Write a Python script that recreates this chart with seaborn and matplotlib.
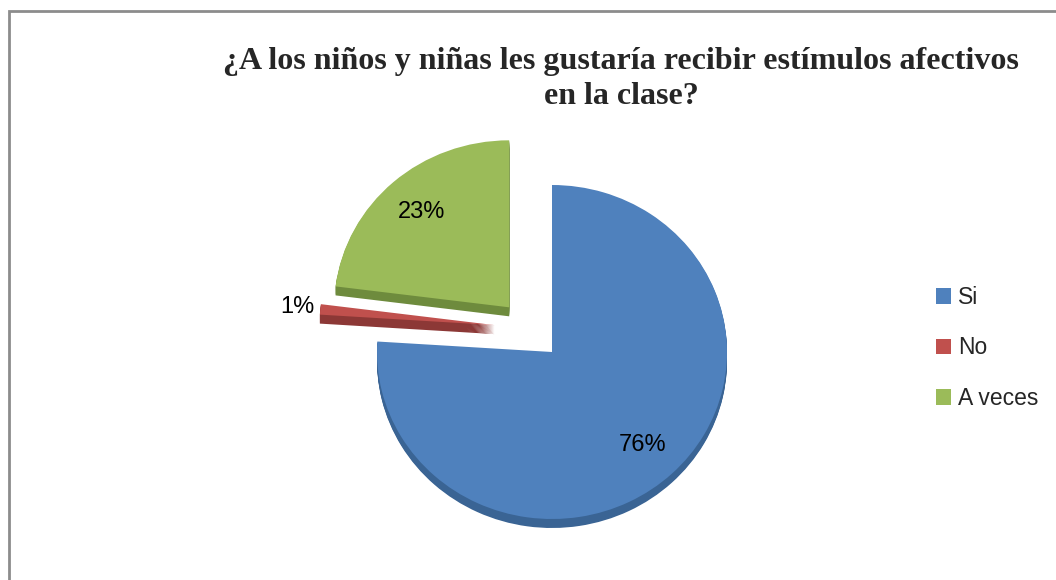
import matplotlib
matplotlib.use("Agg")
import matplotlib.pyplot as plt
import seaborn as sns
import numpy as np
from matplotlib.patches import Rectangle

categories = ["Si", "No", "A veces"]
values = [76, 1, 23]
pct_labels = ["76%", "1%", "23%"]
title = "¿A los niños y niñas les gustaría recibir estímulos afectivos\nen la clase?"

sns.set_theme(style="white")
plt.rcParams["font.family"] = ["Liberation Sans", "DejaVu Sans"]

colors = ["#4F81BD", "#C0504D", "#9BBB59"]
dark = ["#3A6494", "#8C3836", "#6E8B3D"]
explode = [0, 0.33, 0.37]
lift = [0, 0.13, -0.01]  # extra vertical shift imitating the 3D perspective

W, H = 1056, 580
fig = plt.figure(figsize=(W / 100, H / 100), dpi=100)
ax = fig.add_axes([0, 0, 1, 1])

cx, cy, rx, ry = 552, 352, 175, 167
depth = 9 / ry


def layer(cols, dy, **kw):
    out = ax.pie(values, explode=explode, colors=cols, startangle=90, counterclock=False,
                 center=(0, dy), wedgeprops=dict(linewidth=0), frame=True, **kw)
    for w, l in zip(out[0], lift):
        c = w.center
        w.set_center((c[0], c[1] + l))
    return out


n = 10
for k in range(n, 0, -1):
    layer(dark, -depth * k / n)

wedges, texts, autotexts = layer(colors, 0, autopct=lambda p: "", pctdistance=0.78)

for i, (w, t) in enumerate(zip(wedges, autotexts)):
    ang = np.deg2rad((w.theta1 + w.theta2) / 2)
    c = w.center
    d = 1.13 if values[i] < 5 else 0.76
    t.set_position((c[0] + d * np.cos(ang), c[1] + d * np.sin(ang)))
    t.set_text(pct_labels[i])
    t.set_fontsize(17)
    t.set_color("black")
    t.set_ha("center")
    t.set_va("center")

ax.set_aspect("auto")
ax.set_xlim(-cx / rx, (W - cx) / rx)
ax.set_ylim((cy - H) / ry, cy / ry)
ax.set_xticks([])
ax.set_yticks([])
ax.set_frame_on(False)

fig.text(621 / W, 1 - 79 / H, title, ha="center", va="center", fontsize=23,
         fontweight="bold", family=["Liberation Serif", "DejaVu Serif"], linespacing=1.3)

fig.legend(wedges, categories, loc="center left", bbox_to_anchor=(936 / W, 1 - 348 / H),
           frameon=False, fontsize=16.5, handlelength=0.65, handleheight=0.65,
           handletextpad=0.3, labelspacing=1.2, borderpad=0, borderaxespad=0)

fig.patches.append(Rectangle((9 / W, -0.1), 1.2, 1.1 - 11 / H, transform=fig.transFigure,
                             fill=False, edgecolor="#8C8C8C", linewidth=2, zorder=10))

fig.savefig("out.png", dpi=100)
